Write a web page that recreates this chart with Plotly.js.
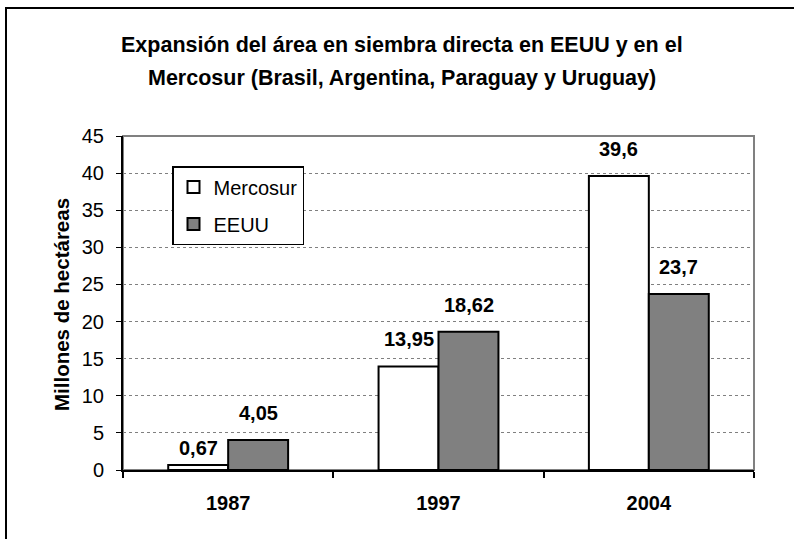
<!DOCTYPE html>
<html><head><meta charset="utf-8">
<script src="https://cdn.plot.ly/plotly-3.0.1.min.js"></script>
<style>body{margin:0;background:#fff}#c{width:794px;height:539px}</style>
</head><body><div id="c"></div>
<script>
const years = ['1987','1997','2004'];
const mercosur = [0.67, 13.95, 39.6];
const eeuu = [4.05, 18.62, 23.7];
const mercosurLabels = ['0,67','13,95','39,6'];
const eeuuLabels = ['4,05','18,62','23,7'];
const titleLines = ['Expansión del área en siembra directa en EEUU y en el','Mercosur (Brasil, Argentina, Paraguay y Uruguay)'];

const FONT = 'Liberation Sans, Arial, sans-serif';
const W = 794, H = 539, L = 123, R = 40, T = 136, B = 69;
const pw = W - L - R, ph = H - T - B;
const px = x => (x - L) / pw;
const py = y => (H - B - y) / ph;

const traces = [
  {type:'bar', name:'Mercosur', legendgroup:'m', x:years, y:mercosur,
   marker:{color:'#ffffff', line:{color:'#000', width:2}}, hoverinfo:'none'},
  {type:'bar', name:'EEUU', legendgroup:'e', x:years, y:eeuu,
   marker:{color:'#808080', line:{color:'#000', width:2}}, hoverinfo:'none'}
];

const annotations = [];
years.forEach((yr, i) => {
  annotations.push({x:i, y:mercosur[i], xref:'x', yref:'y', text:'<b>'+mercosurLabels[i]+'</b>', showarrow:false,
    xshift:-30, yshift: i===0 ? 4 : 14, yanchor:'bottom', font:{family:FONT, size:20, color:'#000'}});
  annotations.push({x:i, y:eeuu[i], xref:'x', yref:'y', text:'<b>'+eeuuLabels[i]+'</b>', showarrow:false,
    xshift:30, yshift:14, yanchor:'bottom', font:{family:FONT, size:20, color:'#000'}});
});
annotations.push({x:px(402), y:py(45), xref:'paper', yref:'paper', text:'<b>'+titleLines[0]+'</b>', showarrow:false,
  xanchor:'center', yanchor:'middle', font:{family:FONT, size:21.5, color:'#000'}});
annotations.push({x:px(402), y:py(78), xref:'paper', yref:'paper', text:'<b>'+titleLines[1]+'</b>', showarrow:false,
  xanchor:'center', yanchor:'middle', font:{family:FONT, size:21.5, color:'#000'}});
annotations.push({x:px(61), y:py(305), xref:'paper', yref:'paper', text:'<b>Millones de hectáreas</b>', showarrow:false,
  textangle:-90, xanchor:'center', yanchor:'middle', font:{family:FONT, size:20.5, color:'#000'}});

const layout = {
  width:W, height:H, margin:{l:L, r:R, t:T, b:B},
  paper_bgcolor:'#fff', plot_bgcolor:'#fff',
  font:{family:FONT, color:'#000'},
  showlegend:true,
  legend:{x:px(172), y:py(166), xanchor:'left', yanchor:'top', bgcolor:'#fff', bordercolor:'#000', borderwidth:1.5,
    font:{family:FONT, size:20, color:'#000'}, tracegroupgap:8},
  barmode:'group', bargap:0.43, bargroupgap:0,
  xaxis:{type:'category', tickson:'boundaries', ticks:'outside', ticklen:6, tickwidth:2, tickcolor:'#000',
    showline:true, linecolor:'#000', linewidth:2, showgrid:false, zeroline:false, tickangle:0,
    tickfont:{family:FONT, size:20, color:'#000', weight:'bold'}, ticklabelstandoff:14},
  yaxis:{range:[0,45], dtick:5, tick0:0, ticks:'outside', ticklen:5, tickwidth:1, tickcolor:'#000',
    showline:true, linecolor:'#000', linewidth:2, showgrid:true, gridcolor:'#808080', griddash:'dot', gridwidth:1,
    zeroline:false, tickfont:{family:FONT, size:20, color:'#000'}, ticklabelstandoff:8},
  annotations:annotations,
  shapes:[
    {type:'rect', xref:'paper', yref:'paper', x0:0, x1:1, y0:0, y1:1, line:{color:'#808080', width:2}, layer:'below'},
    {type:'rect', xref:'paper', yref:'paper', x0:px(6), x1:px(820), y0:py(560), y1:py(8), line:{color:'#000', width:2}, fillcolor:'rgba(0,0,0,0)'}
  ]
};
Plotly.newPlot('c', traces, layout, {displayModeBar:false, staticPlot:true});
</script></body></html>
